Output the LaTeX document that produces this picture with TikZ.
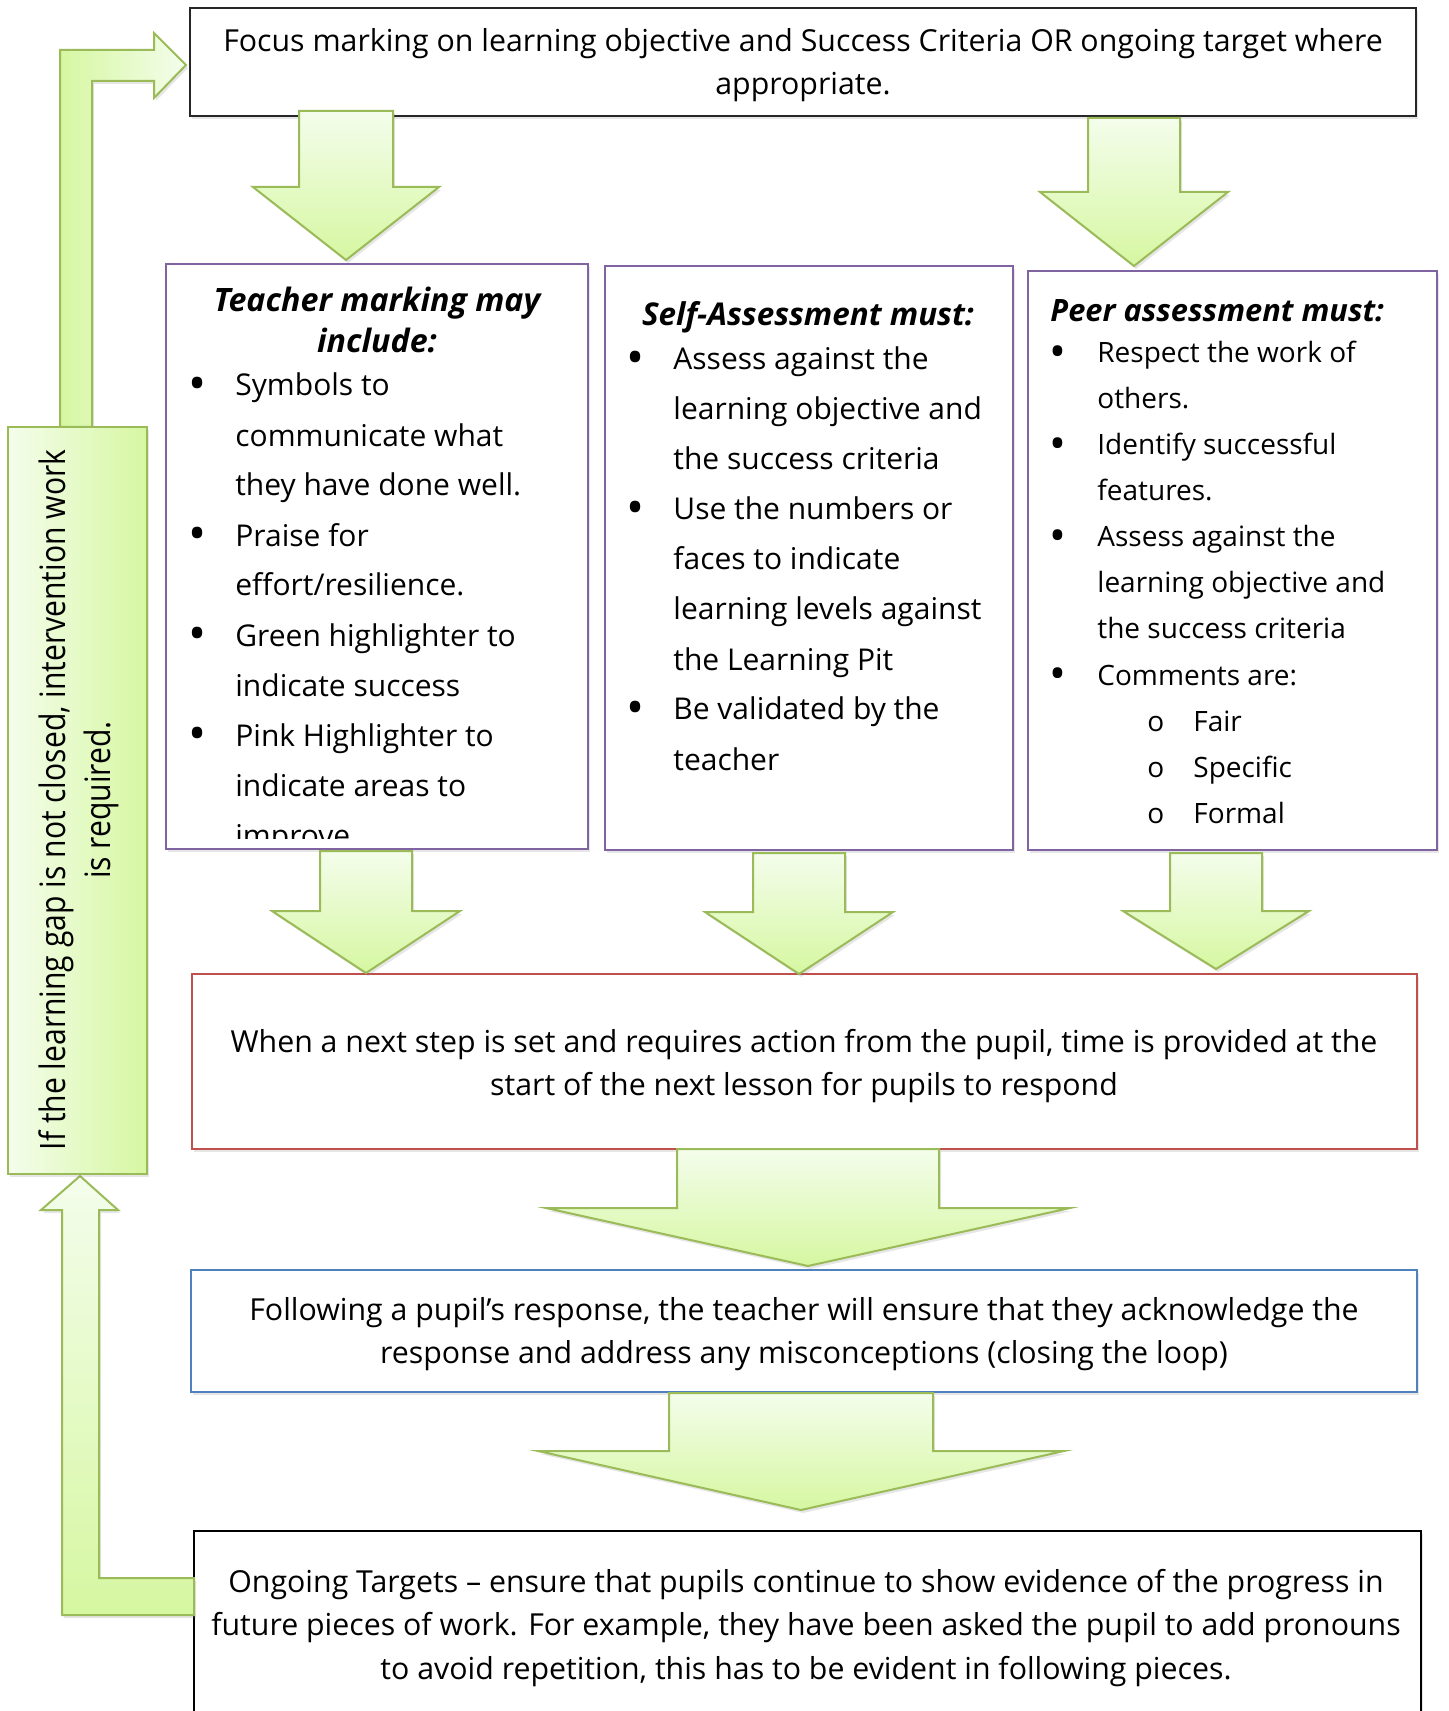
\documentclass[tikz,border=0pt]{standalone}
\usepackage{fontspec}
\setmainfont{Open Sans}
\newfontfamily\narrowfont[FakeStretch=0.86]{Open Sans}
\usetikzlibrary{shadows,fit}

\definecolor{leafedge}{HTML}{9BBB59}
\definecolor{leaflight}{HTML}{F4FDEC}
\definecolor{leafdeep}{HTML}{D6F7A1}
\definecolor{plum}{HTML}{8064A2}
\definecolor{brick}{HTML}{C0504D}
\definecolor{steel}{HTML}{4F81BD}

\newcommand\bodyfont{\fontsize{15.15}{21.75}\selectfont}
\newcommand\listfont{\fontsize{15}{25}\selectfont}
\newcommand\peerfont{\fontsize{14}{23}\selectfont}
\newcommand\bul{\raisebox{-2.4pt}{\scalebox{1.6}{•}}}

\tikzset{
  softshadow/.style={drop shadow={shadow xshift=1pt, shadow yshift=-1.5pt, opacity=0.2}},
  flowarrow/.style={draw=leafedge, line width=1pt, line join=miter,
    top color=leaflight, bottom color=leafdeep, softshadow},
  boxframe/.style={inner sep=0pt, fill=white, softshadow},
  centertext/.style={font=\bodyfont, align=center, inner sep=0pt},
}

% straight block arrow pointing down: name, centre x, top, half shaft, head y, half head, tip y
\newcommand\downblock[7]{%
  \path[flowarrow] ({#2-#4},#3) -- ({#2+#4},#3) -- ({#2+#4},#5) -- ({#2+#6},#5)
    -- (#2,#7) -- ({#2-#6},#5) -- ({#2-#4},#5) -- cycle;
  \coordinate (#1) at (#2,#7);
}

\begin{document}
\begin{tikzpicture}[x=0.5pt,y=-0.5pt]
\useasboundingbox (0,0) rectangle (1448,1711);
\clip (0,0) rectangle (1448,1711);

% ---------- boxes ----------
\node[boxframe, draw=black!85, line width=0.75pt, fit={(190,8) (1416,116)}] (focus) {};
\node[boxframe, draw=plum, line width=1pt, fit={(166,264) (588,849)}] (teacher) {};
\node[boxframe, draw=plum, line width=1pt, fit={(605,266) (1013,850)}] (self) {};
\node[boxframe, draw=plum, line width=1pt, fit={(1028,271) (1437,850)}] (peer) {};
\node[boxframe, draw=brick, line width=1pt, fit={(192,974) (1417,1149)}] (respond) {};
\node[boxframe, draw=steel, line width=1pt, fit={(191,1270) (1417,1392)}] (loop) {};
\node[boxframe, draw=black, line width=1pt, fit={(194,1531) (1421,1760)}] (targets) {};

% ---------- texts ----------
\node[centertext] (focustxt) at (803,65)
  {Focus marking on learning objective and Success Criteria OR ongoing target where\\appropriate.};

\node[font=\fontsize{16.1}{20.5}\selectfont\bfseries\itshape, align=center, inner sep=0pt] (teacherhead) at (377,320)
  {Teacher marking may\\include:};
\begin{scope}
  \clip (166,264) rectangle (588,838);
  \node[anchor=base west, inner sep=0pt, font=\listfont] (teacherlist) at (188,396) {%
  \begin{tabular}[t]{@{}p{23.5pt}@{}l@{}}
  \bul & Symbols to\\
       & communicate what\\
       & they have done well.\\
  \bul & Praise for\\
       & effort/resilience.\\
  \bul & Green highlighter to\\
       & indicate success\\
  \bul & Pink Highlighter to\\
       & indicate areas to\\
       & improve
  \end{tabular}};
\end{scope}

\node[anchor=base, inner sep=0pt, font=\fontsize{15.7}{20}\selectfont\bfseries\itshape] (selfhead) at (808,326)
  {Self-Assessment must:};
\node[anchor=base west, inner sep=0pt, font=\listfont] (selflist) at (626,370) {%
  \begin{tabular}[t]{@{}p{23.5pt}@{}l@{}}
  \bul & Assess against the\\
       & learning objective and\\
       & the success criteria\\
  \bul & Use the numbers or\\
       & faces to indicate\\
       & learning levels against\\
       & the Learning Pit\\
  \bul & Be validated by the\\
       & teacher
  \end{tabular}};

\node[anchor=base west, inner sep=0pt, font=\fontsize{15.4}{20}\selectfont\bfseries\itshape] (peerhead) at (1050,322)
  {Peer assessment must:};
\node[anchor=base west, inner sep=0pt, font=\peerfont] (peerlist) at (1049,363) {%
  \begin{tabular}[t]{@{}p{24pt}@{}l@{}}
  \bul & Respect the work of\\
       & others.\\
  \bul & Identify successful\\
       & features.\\
  \bul & Assess against the\\
       & learning objective and\\
       & the success criteria\\
  \bul & Comments are:\\
       & \hspace*{25pt}\makebox[23pt][l]{o}Fair\\
       & \hspace*{25pt}\makebox[23pt][l]{o}Specific\\
       & \hspace*{25pt}\makebox[23pt][l]{o}Formal
  \end{tabular}};

\node[centertext] (respondtxt) at (804,1066)
  {When a next step is set and requires action from the pupil, time is provided at the\\start of the next lesson for pupils to respond};
\node[centertext] (looptxt) at (804,1334)
  {Following a pupil’s response, the teacher will ensure that they acknowledge the\\response and address any misconceptions (closing the loop)};
\node[centertext] (targetstxt) at (806,1628)
  {Ongoing Targets – ensure that pupils continue to show evidence of the progress in\\future pieces of work. For example, they have been asked the pupil to add pronouns\\to avoid repetition, this has to be evident in following pieces.};

% ---------- down arrows ----------
\downblock{toteacher}{346}{111}{47}{187}{93}{260}
\downblock{topeer}{1134}{118}{46}{192}{94}{266}
\downblock{fromteacher}{366}{851}{46}{911}{94}{973}
\downblock{fromself}{799}{853}{46}{912}{94}{974}
\downblock{frompeer}{1216}{853}{46}{911}{93}{969}
\downblock{toloop}{808}{1149}{131}{1208}{262}{1266}
\downblock{totargets}{801}{1393}{132}{1451}{263}{1510}

% ---------- feedback loop on the left ----------
\path[draw=leafedge, line width=1pt, line join=miter, left color=leafdeep, right color=leaflight, softshadow]
  (60,427) -- (60,50) -- (154,50) -- (154,33) -- (186,65) -- (154,98) -- (154,81)
  -- (92,81) -- (92,427) -- cycle;
\path[draw=leafedge, line width=1pt, line join=miter, top color=leaflight, bottom color=leafdeep, softshadow]
  (194,1578) -- (99,1578) -- (99,1210) -- (118,1210) -- (80,1176) -- (41,1210)
  -- (62,1210) -- (62,1615) -- (194,1615) -- cycle;
\node[draw=leafedge, line width=1pt, inner sep=0pt, left color=leaflight, right color=leafdeep,
  softshadow, fit={(8,427) (147,1174)}] (gapbox) {};
\node[rotate=90, align=center, inner sep=0pt, font=\narrowfont\fontsize{17.5}{22.3}\selectfont] (gaptxt) at (79,800)
  {If the learning gap is not closed, intervention work\\is required.};
\end{tikzpicture}
\end{document}
